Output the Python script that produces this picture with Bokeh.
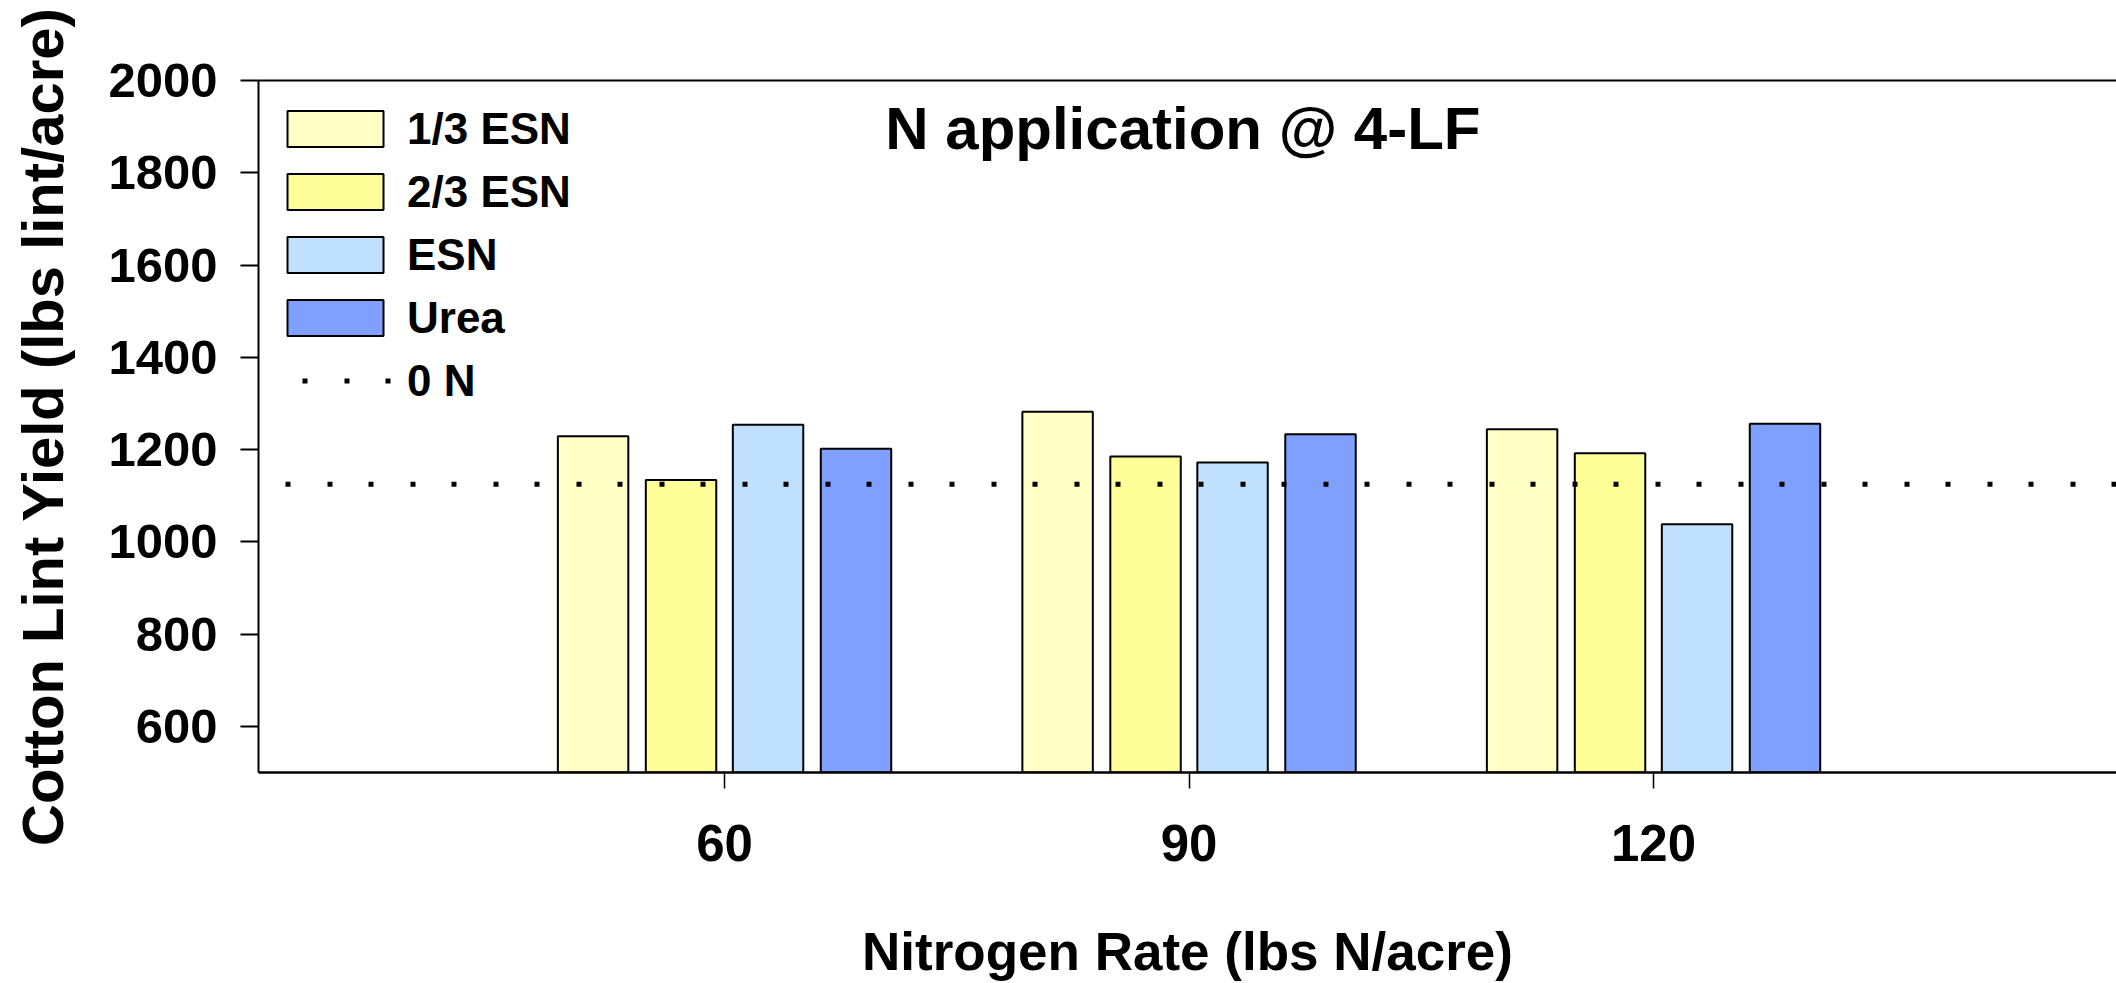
from bokeh.plotting import figure
from bokeh.models import (ColumnDataSource, Legend, LegendItem, Label, LinearAxis,
                          FixedTicker, Range1d)
from bokeh.transform import dodge
from bokeh.embed import file_html
from bokeh.resources import INLINE

# ---------------- data ----------------
rates = [60, 90, 120]
series_names = ["1/3 ESN", "2/3 ESN", "ESN", "Urea"]
esn_one_third = [1229, 1282, 1244]
esn_two_thirds = [1134, 1185, 1192]
esn_full = [1254, 1172, 1038]
urea = [1202, 1233, 1256]
zero_n = 1125
y_ticks = [600, 800, 1000, 1200, 1400, 1600, 1800, 2000]
x_ticks = [60, 90, 120]

title_text = "N application @ 4-LF"
x_title = "Nitrogen Rate (lbs N/acre)"
y_title = "Cotton Lint Yield (lbs lint/acre)"

colors = ["#FFFFC6", "#FFFF99", "#C0E0FF", "#80A0FF"]
offsets = [-8.49, -2.81, 2.81, 8.49]
bar_w = 4.55
FONT = "Liberation Sans"

src = ColumnDataSource(dict(rate=rates, s0=esn_one_third, s1=esn_two_thirds,
                            s2=esn_full, s3=urea))

p = figure(width=2116, height=983, output_backend="svg", toolbar_location=None,
           x_range=Range1d(29.9, 149.9), y_range=Range1d(500, 2000),
           min_border_left=258, min_border_top=80, min_border_bottom=210,
           min_border_right=0)
p.outline_line_color = None
p.xgrid.visible = False
p.ygrid.visible = False
p.background_fill_color = "white"
p.border_fill_color = "white"

renderers = []
for i, col in enumerate(["s0", "s1", "s2", "s3"]):
    r = p.vbar(x=dodge("rate", offsets[i], range=p.x_range), top=col, bottom=500,
               width=bar_w, source=src, fill_color=colors[i],
               line_color="black", line_width=2)
    renderers.append(r)

zl = p.line(x=[p.x_range.start, p.x_range.end], y=[zero_n, zero_n],
            line_color="black", line_width=5, line_dash="5 36 5 37",
            line_dash_offset=14)

# axes
xa = p.xaxis[0]
xa.ticker = FixedTicker(ticks=x_ticks)
xa.axis_line_width = 2.5
xa.axis_line_color = "black"
xa.major_tick_out = 16
xa.major_tick_in = 0
xa.major_tick_line_width = 1.5
xa.minor_tick_line_color = None
xa.major_label_standoff = 36
xa.major_label_text_font = FONT
xa.major_label_text_font_style = "bold"
xa.major_label_text_font_size = "51px"
xa.major_label_text_color = "black"
xa.axis_label = x_title
xa.axis_label_standoff = 58
xa.axis_label_text_font = FONT
xa.axis_label_text_font_style = "bold"
xa.axis_label_text_font_size = "53px"
xa.axis_label_text_color = "black"

ya = p.yaxis[0]
ya.ticker = FixedTicker(ticks=y_ticks)
ya.axis_line_width = 2
ya.axis_line_color = "black"
ya.major_tick_out = 18
ya.major_tick_in = 0
ya.major_tick_line_width = 2
ya.minor_tick_line_color = None
ya.major_label_standoff = 23
ya.major_label_text_font = FONT
ya.major_label_text_font_style = "bold"
ya.major_label_text_font_size = "49px"
ya.major_label_text_color = "black"
ya.axis_label = y_title
ya.axis_label_standoff = 30
ya.axis_label_text_font = FONT
ya.axis_label_text_font_style = "bold"
ya.axis_label_text_font_size = "58px"
ya.axis_label_text_color = "black"

top_axis = LinearAxis(ticker=FixedTicker(ticks=[]), axis_line_width=2,
                      axis_line_color="black", major_tick_out=0, major_tick_in=0,
                      minor_tick_line_color=None, major_label_text_font_size="0px")
p.add_layout(top_axis, "above")

# title inside the plot
p.add_layout(Label(x=89.6, y=1896, text=title_text, text_align="center",
                   text_baseline="alphabetic", text_font=FONT,
                   text_font_style="bold", text_font_size="60px",
                   text_color="black"))

items = [LegendItem(label=series_names[i], renderers=[renderers[i]]) for i in range(4)]
items.append(LegendItem(label="0 N", renderers=[zl]))
legend = Legend(items=items, location="top_left", glyph_width=120, glyph_height=45,
                label_standoff=12, label_height=63, spacing=0, padding=0, margin=17,
                label_text_font=FONT, label_text_font_style="bold",
                label_text_font_size="44px", label_text_color="black",
                border_line_color=None, background_fill_alpha=0)
p.add_layout(legend)

open("out.html", "w").write(file_html(p, INLINE))
